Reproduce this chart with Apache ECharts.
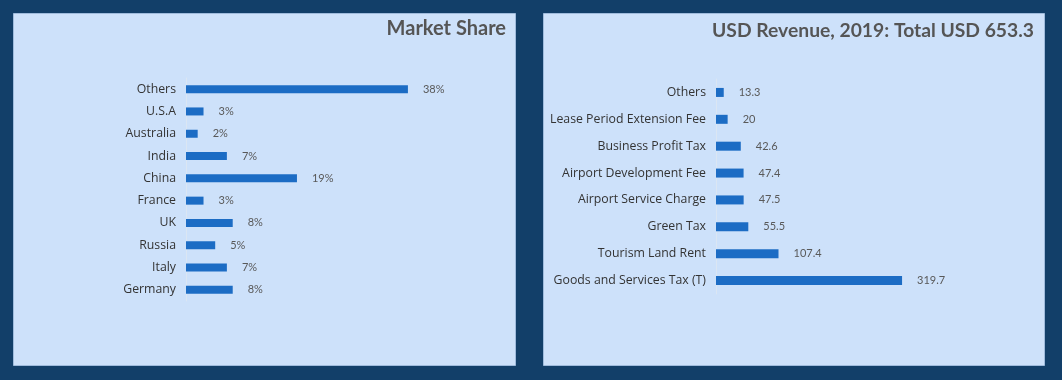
<!DOCTYPE html>
<html>
<head>
<meta charset="utf-8">
<script src="https://cdn.jsdelivr.net/npm/echarts@6/dist/echarts.min.js"></script>
<style>
html,body{margin:0;padding:0;background:#123f69;}
#c{width:1062px;height:380px;}
</style>
</head>
<body>
<div id="c"></div>
<script>
// Left chart: Market Share
const shareCategories = ['Others','U.S.A','Australia','India','China','France','UK','Russia','Italy','Germany'];
const shareValues = [38,3,2,7,19,3,8,5,7,8];
const shareTitle = 'Market Share';

// Right chart: USD Revenue
const revCategories = ['Others','Lease Period Extension Fee','Business Profit Tax','Airport Development Fee','Airport Service Charge','Green Tax','Tourism Land Rent','Goods and Services Tax (T)'];
const revValues = [13.3,20,42.6,47.4,47.5,55.5,107.4,319.7];
const revTitle = 'USD Revenue, 2019: Total USD 653.3';

const FONT = 'Lato, "Noto Sans", sans-serif';
const CATFONT = '"Open Sans", Lato, sans-serif';
const barColor = '#1c6cc4';
const labelColor = '#595959';
const catColor = '#333333';

const chart = echarts.init(document.getElementById('c'), null, {renderer:'canvas'});

function catAxis(gridIndex, cats){
  return {
    type:'category', gridIndex, data:cats.slice().reverse(),
    axisLine:{show:true, lineStyle:{color:'#dbe6f3', width:1}},
    axisTick:{show:false},
    axisLabel:{color:catColor, fontFamily:CATFONT, fontSize:12.3, margin:10}
  };
}
function valAxis(gridIndex, max){
  return {
    type:'value', gridIndex, min:0, max,
    axisLine:{show:false}, axisTick:{show:false}, axisLabel:{show:false}, splitLine:{show:false}
  };
}

chart.setOption({
  backgroundColor:'#123f69',
  animation:false,
  graphic:[
    {type:'rect', shape:{x:13.5,y:13.5,width:502,height:352}, style:{fill:'#cde1fa', stroke:'#9fbbdc', lineWidth:1}},
    {type:'rect', shape:{x:543.5,y:13.5,width:501,height:352}, style:{fill:'#cde1fa', stroke:'#9fbbdc', lineWidth:1}},
    {type:'text', right:1062-506, top:19, style:{text:shareTitle, fill:'#555555', font:'bold 20px '+FONT, textAlign:'right'}},
    {type:'text', right:1062-1034, top:21, style:{text:revTitle, fill:'#555555', font:'bold 19.3px '+FONT, textAlign:'right'}}
  ],
  grid:[
    {left:186, top:78, width:292, height:223},
    {left:716, top:79, width:291, height:215}
  ],
  xAxis:[valAxis(0,50), valAxis(1,500)],
  yAxis:[catAxis(0, shareCategories), catAxis(1, revCategories)],
  series:[
    {type:'bar', xAxisIndex:0, yAxisIndex:0, data:shareValues.slice().reverse(), barWidth:8,
     itemStyle:{color:barColor},
     label:{show:true, position:'right', distance:15, formatter:'{c}%', color:labelColor, fontFamily:FONT, fontSize:11}},
    {type:'bar', xAxisIndex:1, yAxisIndex:1, data:revValues.slice().reverse(), barWidth:9,
     itemStyle:{color:barColor},
     label:{show:true, position:'right', distance:15, color:labelColor, fontFamily:FONT, fontSize:11}}
  ]
});
</script>
</body>
</html>
